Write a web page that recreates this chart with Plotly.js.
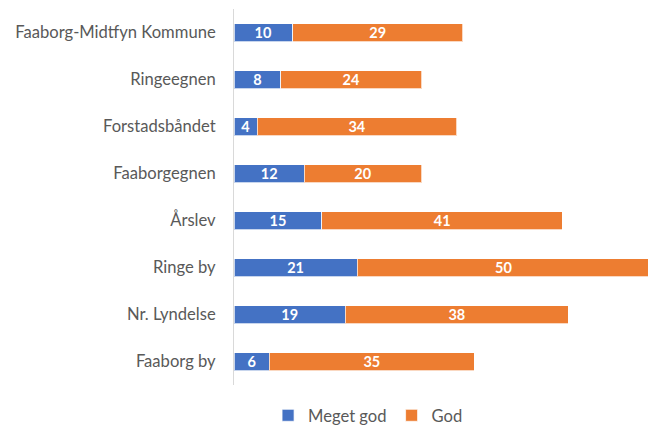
<!DOCTYPE html>
<html>
<head>
<meta charset="utf-8">
<script src="https://cdn.plot.ly/plotly-3.0.1.min.js"></script>
<style>html,body{margin:0;padding:0;background:#fff;}#chart{width:648px;height:433px;}</style>
</head>
<body>
<div id="chart"></div>
<script>
const categories = ["Faaborg-Midtfyn Kommune", "Ringeegnen", "Forstadsbåndet", "Faaborgegnen", "Årslev", "Ringe by", "Nr. Lyndelse", "Faaborg by"];
const megetGod = [10, 8, 4, 12, 15, 21, 19, 6];
const god = [29, 24, 34, 20, 41, 50, 38, 35];

const font = "Lato, Open Sans, sans-serif";
function series(name, vals, color) {
  return {
    type: "bar", orientation: "h", name: name,
    x: vals, y: categories,
    marker: {color: color, line: {color: "rgba(255,255,255,0.7)", width: 1}},
    text: vals.map(String), textposition: "inside", insidetextanchor: "middle",
    textangle: 0, constraintext: "none",
    textfont: {family: font, size: 14.5, color: "#ffffff", weight: "bold"},
    hoverinfo: "x+y"
  };
}
const data = [series("Meget god", megetGod, "#4472C4"), series("God", god, "#ED7D31")];
const layout = {
  width: 648, height: 433,
  margin: {l: 234, r: 0, t: 9, b: 48},
  barmode: "stack", bargap: 0.617,
  paper_bgcolor: "#fff", plot_bgcolor: "#fff",
  font: {family: font, color: "#595959", size: 16.6},
  xaxis: {range: [0, 70.6], showgrid: false, zeroline: false, showticklabels: false, showline: false, fixedrange: true},
  yaxis: {autorange: "reversed", showline: true, linecolor: "#d9d9d9", linewidth: 1, ticks: "", showgrid: false,
          ticklabelstandoff: 14, tickfont: {family: font, size: 16.6, color: "#595959"}},
  showlegend: true,
  legend: {orientation: "h", xref: "container", yref: "container", x: 0.568, xanchor: "center", y: 0, yanchor: "bottom",
           font: {family: font, size: 16.6, color: "#595959"}, traceorder: "normal", itemwidth: 30},
  uniformtext: {mode: false}
};
Plotly.newPlot("chart", data, layout, {displayModeBar: false, staticPlot: true});
</script>
</body>
</html>
